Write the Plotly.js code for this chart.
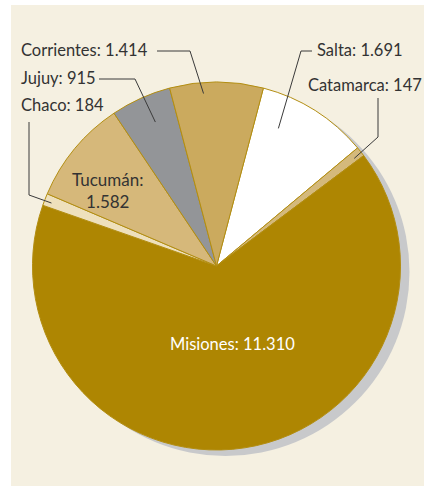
<!DOCTYPE html>
<html><head><meta charset="utf-8">
<script src="https://cdn.plot.ly/plotly-3.0.1.min.js"></script>
<style>html,body{margin:0;padding:0;background:#fff;}</style>
</head><body><div id="chart" style="width:424px;height:486px;"></div>
<script>
const provinces = ['Salta','Catamarca','Misiones','Chaco','Tucumán','Jujuy','Corrientes'];
const values = [1691,147,11310,184,1582,915,1414];
const colors = ['#ffffff','#d4b97c','#ae8602','#eee0bc','#d6b87a','#939598','#cbaa5e'];

const W=424,H=486;
const cx=216.5, cy=266, R=184;
const px = x=>x/W, py = y=>1-y/H;
function fmt(v){ return String(v).replace(/\B(?=(\d{3})+(?!\d))/g,'.'); }
const total = values.reduce((a,b)=>a+b,0);
const rotation = 180*values[6]/total; // Corrientes centred at 12 o'clock
let acc=rotation; const mid=[];
values.forEach(v=>{const a=v/total*360; mid.push(acc+a/2); acc+=a;});
if (mid[6] < 180) mid[6] += 360;

const font = {family:'Lato, "Open Sans", sans-serif', size:16.5, color:'#333333'};
const lab = i => provinces[i] + ': ' + fmt(values[i]);

// leader lines: [index, elbow points (px), angle offset, radius fraction]
const leaders = [
  [6, [[157,51],[190,51]], -4.3, 0.94],
  [5, [[99,79],[135,79]], 1.3, 0.85],
  [3, [[29,122],[29,195]], -0.3, 0.96],
  [0, [[312,51],[301,51]], -8.2, 0.82],
  [1, [[378,98],[378,137]], 0.4, 0.95]
];
const shapes = [
  {type:'rect', xref:'paper', yref:'paper', x0:px(11), x1:px(424), y0:py(486), y1:py(5), fillcolor:'#f5f0e1', line:{width:0}, layer:'below'},
  {type:'circle', xref:'paper', yref:'paper', x0:px(cx-R+9), x1:px(cx+R+9), y0:py(cy+R+6), y1:py(cy-R+6), fillcolor:'#c8c9cb', line:{width:0}, layer:'below'}
];
leaders.forEach(([i,pts,off,rf])=>{
  const a=(mid[i]+off)*Math.PI/180;
  const ax=cx+rf*R*Math.sin(a), ay=cy-rf*R*Math.cos(a);
  const all=[...pts,[ax,ay]];
  const d=all.map((p,k)=>(k?'L ':'M ')+px(p[0])+' '+py(p[1])).join(' ');
  shapes.push({type:'path', xref:'paper', yref:'paper', path:d, line:{color:'#3a3a3a', width:1}, layer:'above'});
});

const annotations = [
  {i:6, x:19, y:50, xa:'left'},
  {i:5, x:19, y:78, xa:'left'},
  {i:3, x:19, y:105, xa:'left'},
  {i:0, x:315, y:50, xa:'left'},
  {i:1, x:306, y:85, xa:'left'}
].map(o=>({xref:'paper', yref:'paper', x:px(o.x), y:py(o.y), xanchor:o.xa, yanchor:'middle', text:lab(o.i), showarrow:false, font:font}));
annotations.push({xref:'paper', yref:'paper', x:px(108), y:py(190), xanchor:'center', yanchor:'middle', text:provinces[4]+':<br>'+fmt(values[4]), showarrow:false, font:Object.assign({}, font, {size:17}), align:'center'});
annotations.push({xref:'paper', yref:'paper', x:px(232), y:py(344), xanchor:'center', yanchor:'middle', text:lab(2), showarrow:false, font:Object.assign({}, font, {color:'#ffffff'})});

const trace = {
  type:'pie', labels:provinces, values:values, sort:false, direction:'clockwise', rotation:rotation,
  marker:{colors:colors, line:{color:'#b38e12', width:1}},
  textinfo:'none', hoverinfo:'skip',
  domain:{x:[px(cx-R), px(cx+R)], y:[py(cy+R), py(cy-R)]}
};
Plotly.newPlot('chart',[trace],{
  width:W, height:H, margin:{l:0,r:0,t:0,b:0}, paper_bgcolor:'#ffffff', showlegend:false,
  shapes:shapes, annotations:annotations
},{staticPlot:true});
</script></body></html>
